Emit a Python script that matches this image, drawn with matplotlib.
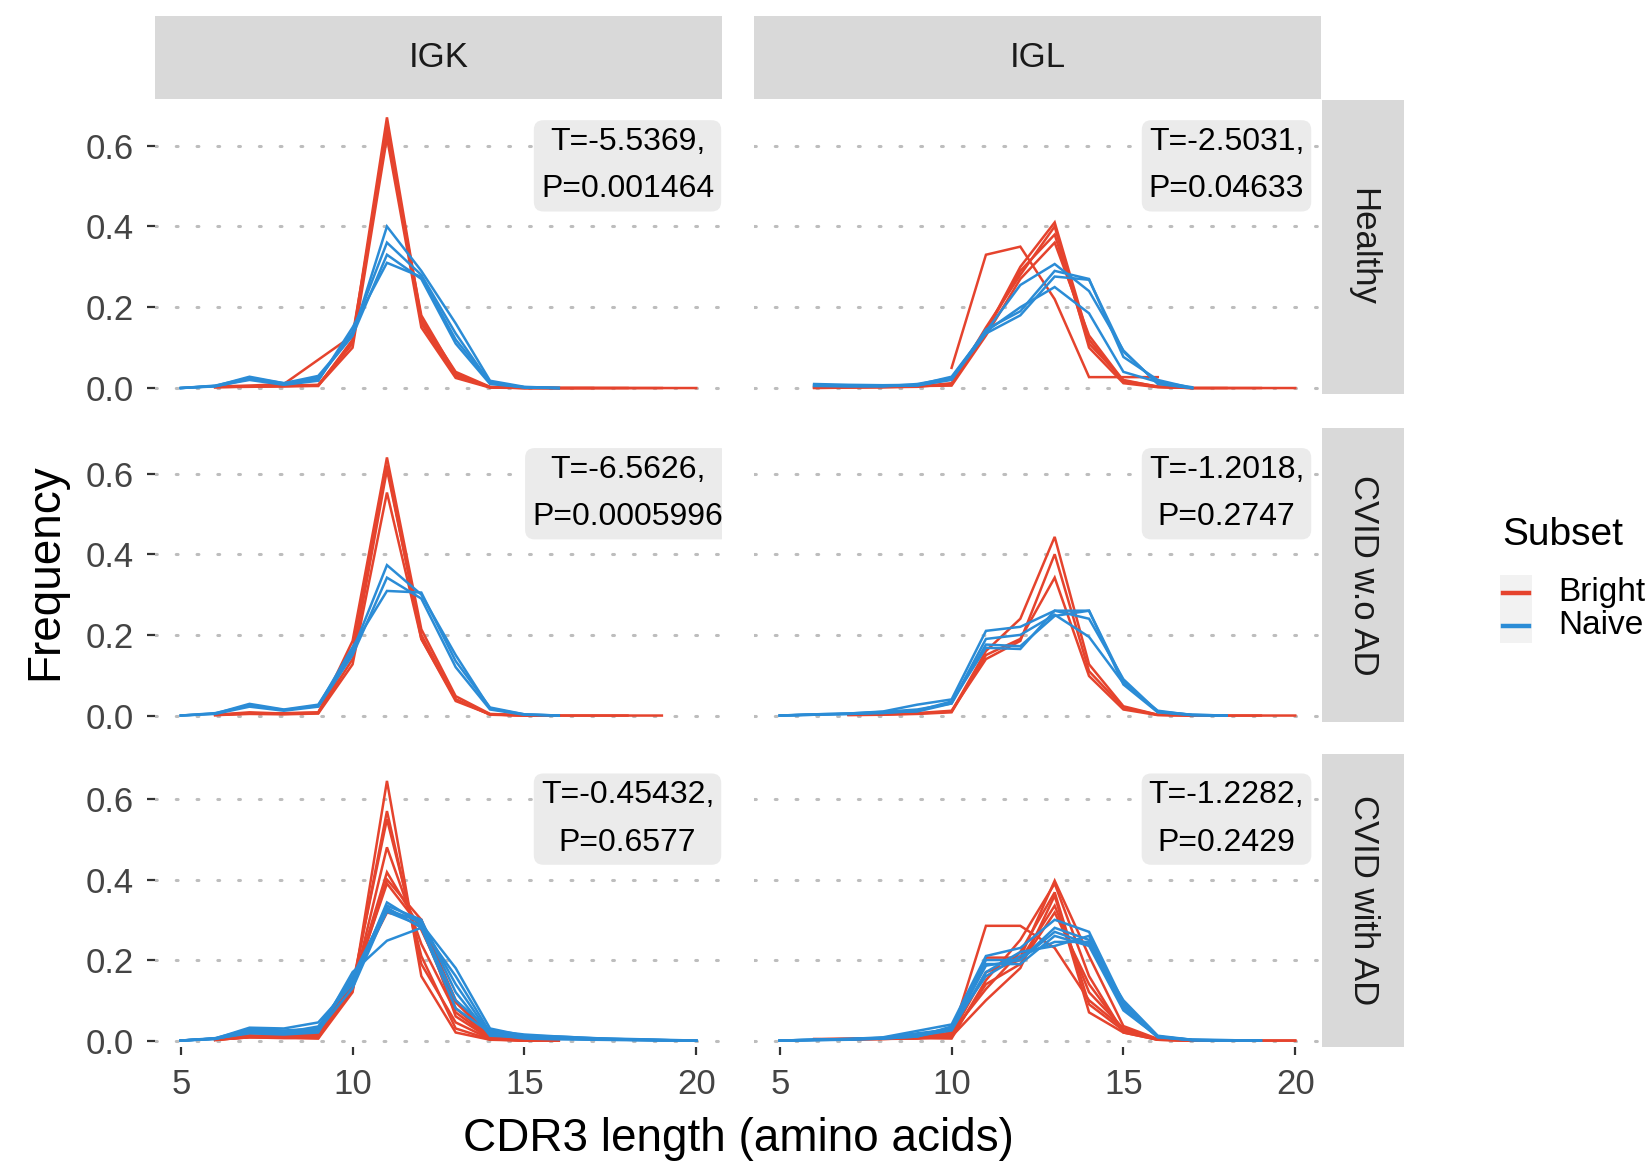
import numpy as np
import matplotlib
matplotlib.use("Agg")
import matplotlib.pyplot as plt
from matplotlib.lines import Line2D
from matplotlib.patches import Rectangle

plt.rcParams["font.family"] = ["Liberation Sans", "DejaVu Sans"]

# CDR3 length axis, every series below is indexed on it (None = no point)
lengths = list(range(5, 21))

chains = ["IGK", "IGL"]
groups = ["Healthy", "CVID w.o AD", "CVID with AD"]
subsets = ["Bright", "Naive"]

healthy_igk_bright = [
    [None, 0.003, 0.005, 0.005, 0.005, 0.12, 0.67, 0.17, 0.040, 0.003, 0, 0, 0, 0, 0, 0],
    [None, 0.002, 0.004, 0.006, 0.008, 0.11, 0.65, 0.16, 0.030, 0.002, 0, 0, 0, 0, 0, None],
    [None, 0.004, 0.006, 0.010, 0.070, 0.13, 0.63, 0.18, 0.035, 0.002, 0.001, 0, 0, None, None, None],
    [None, 0.002, 0.003, 0.004, 0.006, 0.10, 0.62, 0.15, 0.025, 0.001, 0, 0, None, None, None, None],
    [None, 0.003, 0.004, 0.005, 0.007, 0.115, 0.64, 0.165, 0.030, 0.002, 0, 0, 0, 0, None, None],
]
healthy_igk_naive = [
    [0, 0.005, 0.028, 0.012, 0.025, 0.13, 0.40, 0.29, 0.16, 0.018, 0.003, 0, None, None, None, None],
    [0, 0.004, 0.022, 0.010, 0.020, 0.14, 0.36, 0.28, 0.135, 0.012, 0.002, 0, None, None, None, None],
    [0, 0.006, 0.025, 0.012, 0.030, 0.13, 0.33, 0.27, 0.11, 0.010, 0.002, 0, None, None, None, None],
    [0, 0.005, 0.020, 0.008, 0.018, 0.15, 0.31, 0.275, 0.12, 0.015, 0.001, 0, None, None, None, None],
]
healthy_igl_bright = [
    [None, None, None, None, None, 0.05, 0.33, 0.35, 0.22, 0.027, 0.027, 0.027, None, None, None, None],
    [None, 0.000, 0.001, 0.002, 0.003, 0.010, 0.14, 0.30, 0.41, 0.12, 0.015, 0.003, 0, 0, 0, 0],
    [None, 0.001, 0.002, 0.003, 0.005, 0.008, 0.15, 0.28, 0.40, 0.10, 0.012, 0.002, 0, 0, 0, None],
    [None, 0.002, 0.003, 0.004, 0.005, 0.006, 0.13, 0.27, 0.36, 0.13, 0.018, 0.004, 0, 0, None, None],
    [None, 0.001, 0.002, 0.002, 0.004, 0.012, 0.14, 0.29, 0.38, 0.11, 0.020, 0.003, 0, None, None, None],
]
healthy_igl_naive = [
    [None, 0.010, 0.008, 0.007, 0.008, 0.028, 0.14, 0.255, 0.307, 0.24, 0.093, 0.010, 0, None, None, None],
    [None, 0.008, 0.006, 0.006, 0.007, 0.020, 0.145, 0.19, 0.29, 0.27, 0.077, 0.020, 0, None, None, None],
    [None, 0.005, 0.005, 0.005, 0.006, 0.022, 0.135, 0.18, 0.276, 0.268, 0.09, 0.012, 0, None, None, None],
    [None, 0.006, 0.004, 0.004, 0.010, 0.025, 0.14, 0.20, 0.25, 0.185, 0.04, 0.015, 0.002, None, None, None],
]
woad_igk_bright = [
    [None, 0.002, 0.008, 0.005, 0.007, 0.185, 0.64, 0.214, 0.048, 0.004, 0.001, 0, 0, 0, 0, None],
    [None, 0.001, 0.006, 0.004, 0.006, 0.16, 0.62, 0.19, 0.036, 0.003, 0, 0, 0, 0, None, None],
    [None, 0.002, 0.005, 0.006, 0.008, 0.14, 0.61, 0.20, 0.040, 0.002, 0, 0, None, None, None, None],
    [None, 0.001, 0.004, 0.003, 0.005, 0.127, 0.553, 0.19, 0.040, 0.003, 0, 0, None, None, None, None],
]
woad_igk_naive = [
    [0, 0.005, 0.029, 0.015, 0.027, 0.16, 0.373, 0.30, 0.15, 0.017, 0.003, 0, None, None, None, None],
    [0, 0.004, 0.022, 0.012, 0.022, 0.15, 0.342, 0.29, 0.12, 0.015, 0.002, 0, None, None, None, None],
    [0, 0.006, 0.025, 0.014, 0.024, 0.17, 0.309, 0.305, 0.135, 0.020, 0.003, 0, None, None, None, None],
]
woad_igl_bright = [
    [None, None, 0.002, 0.003, 0.005, 0.010, 0.16, 0.24, 0.443, 0.127, 0.023, 0.002, 0, 0, 0, 0],
    [None, None, 0.001, 0.002, 0.004, 0.008, 0.15, 0.19, 0.342, 0.098, 0.015, 0.001, 0, 0, 0, None],
    [None, None, 0.002, 0.003, 0.006, 0.012, 0.14, 0.185, 0.40, 0.11, 0.020, 0.002, 0, None, None, None],
]
woad_igl_naive = [
    [0, 0.003, 0.005, 0.010, 0.027, 0.040, 0.21, 0.22, 0.26, 0.26, 0.085, 0.009, 0.002, 0, None, None],
    [0, 0.002, 0.004, 0.008, 0.010, 0.030, 0.176, 0.172, 0.247, 0.26, 0.077, 0.008, 0.001, 0, None, None],
    [0, 0.002, 0.004, 0.006, 0.012, 0.035, 0.168, 0.165, 0.26, 0.24, 0.09, 0.010, 0.002, 0, None, None],
    [0, 0.003, 0.005, 0.009, 0.015, 0.030, 0.19, 0.20, 0.25, 0.195, 0.08, 0.012, 0.001, 0, None, None],
]
wad_igk_bright = [
    [None, 0.002, 0.008, 0.008, 0.005, 0.12, 0.645, 0.16, 0.020, 0.002, 0, 0, None, None, None, None],
    [None, 0.002, 0.010, 0.007, 0.010, 0.13, 0.57, 0.19, 0.045, 0.004, 0, 0, None, None, None, None],
    [None, 0.003, 0.012, 0.010, 0.008, 0.14, 0.55, 0.21, 0.030, 0.003, 0, 0, None, None, None, None],
    [None, 0.001, 0.009, 0.008, 0.012, 0.125, 0.48, 0.24, 0.070, 0.006, 0.001, 0, None, None, None, None],
    [None, 0.002, 0.011, 0.009, 0.015, 0.135, 0.418, 0.275, 0.095, 0.010, 0.001, 0, None, None, None, None],
    [None, 0.003, 0.010, 0.011, 0.010, 0.13, 0.40, 0.30, 0.060, 0.005, 0, 0, None, None, None, None],
    [None, 0.002, 0.008, 0.006, 0.006, 0.14, 0.39, 0.28, 0.080, 0.008, 0, 0, None, None, None, None],
    [None, 0.002, 0.013, 0.010, 0.020, 0.15, 0.318, 0.30, 0.10, 0.012, 0.002, 0, None, None, None, None],
]
wad_igk_naive = [
    [0, 0.005, 0.032, 0.030, 0.045, 0.14, 0.343, 0.29, 0.18, 0.030, 0.012, 0.010, 0.006, 0.004, 0.002, 0],
    [0, 0.004, 0.025, 0.020, 0.028, 0.15, 0.335, 0.30, 0.12, 0.012, 0.008, 0.005, 0.003, 0.002, 0.001, 0],
    [0, 0.006, 0.028, 0.025, 0.030, 0.16, 0.33, 0.28, 0.08, 0.020, 0.010, 0.008, 0.004, 0.002, 0.001, 0],
    [0, 0.005, 0.020, 0.018, 0.025, 0.13, 0.325, 0.295, 0.14, 0.015, 0.005, 0.003, 0.002, 0.001, 0, 0],
    [0, 0.004, 0.022, 0.020, 0.035, 0.15, 0.32, 0.285, 0.10, 0.025, 0.015, 0.010, 0.006, 0.003, 0.001, 0],
    [0, 0.005, 0.018, 0.015, 0.020, 0.17, 0.248, 0.28, 0.16, 0.020, 0.010, 0.006, 0.003, 0.002, 0.001, 0],
]
wad_igl_bright = [
    [None, 0.004, 0.004, 0.005, 0.006, 0.012, 0.285, 0.285, 0.23, 0.10, 0.030, 0.003, 0, 0, 0, 0],
    [None, 0.003, 0.004, 0.005, 0.008, 0.010, 0.206, 0.206, 0.397, 0.21, 0.036, 0.004, 0, 0, 0, 0],
    [None, 0.002, 0.003, 0.004, 0.006, 0.005, 0.15, 0.25, 0.39, 0.16, 0.020, 0.002, 0, 0, None, None],
    [None, 0.003, 0.004, 0.006, 0.008, 0.020, 0.128, 0.22, 0.368, 0.09, 0.025, 0.003, 0, None, None, None],
    [None, 0.002, 0.003, 0.004, 0.005, 0.010, 0.10, 0.18, 0.36, 0.07, 0.020, 0.002, 0, None, None, None],
    [None, 0.003, 0.004, 0.005, 0.007, 0.015, 0.17, 0.20, 0.335, 0.12, 0.030, 0.003, 0, None, None, None],
    [None, 0.002, 0.003, 0.004, 0.006, 0.012, 0.14, 0.19, 0.318, 0.14, 0.025, 0.002, 0, None, None, None],
]
wad_igl_naive = [
    [0, 0.002, 0.004, 0.008, 0.024, 0.040, 0.21, 0.23, 0.30, 0.27, 0.095, 0.010, 0.002, 0.001, 0, None],
    [0, 0.002, 0.003, 0.006, 0.015, 0.030, 0.186, 0.20, 0.28, 0.25, 0.08, 0.008, 0.001, 0, 0, None],
    [0, 0.001, 0.003, 0.005, 0.010, 0.035, 0.16, 0.21, 0.245, 0.245, 0.085, 0.010, 0.001, 0, 0, None],
    [0, 0.002, 0.004, 0.006, 0.012, 0.025, 0.17, 0.22, 0.235, 0.26, 0.09, 0.009, 0.002, 0, 0, None],
    [0, 0.001, 0.002, 0.005, 0.010, 0.030, 0.19, 0.19, 0.26, 0.235, 0.075, 0.010, 0.001, 0, 0, None],
    [0, 0.002, 0.003, 0.007, 0.018, 0.028, 0.20, 0.20, 0.27, 0.24, 0.10, 0.012, 0.002, 0.001, 0, None],
]

# t-test results shown in each panel, rows = groups, cols = chains
t_values = [["-5.5369", "-2.5031"], ["-6.5626", "-1.2018"], ["-0.45432", "-1.2282"]]
p_values = [["0.001464", "0.04633"], ["0.0005996", "0.2747"], ["0.6577", "0.2429"]]

panel_data = [
    [(healthy_igk_bright, healthy_igk_naive), (healthy_igl_bright, healthy_igl_naive)],
    [(woad_igk_bright, woad_igk_naive), (woad_igl_bright, woad_igl_naive)],
    [(wad_igk_bright, wad_igk_naive), (wad_igl_bright, wad_igl_naive)],
]

colors = {"Bright": "#E5432D", "Naive": "#2B8CD6"}

W, H = 1646, 1165
fig = plt.figure(figsize=(W / 100, H / 100), dpi=100)


def rect(left, top, right, bottom):
    return [left / W, 1 - bottom / H, (right - left) / W, (bottom - top) / H]


col_px = [(155, 722), (754, 1321)]
row_px = [(100, 394.5), (428, 722), (753.5, 1047)]

for i, (top, bottom) in enumerate(row_px):
    for j, (left, right) in enumerate(col_px):
        ax = fig.add_axes(rect(left, top, right, bottom))
        ax.set_xlim(4.25, 20.75)
        ax.set_ylim(-0.016, 0.713)
        ax.set_yticks([0, 0.2, 0.4, 0.6])
        ax.set_xticks([5, 10, 15, 20])
        ax.grid(axis="y", color="#BDBDBD", linestyle=(0, (0.6, 6.2)),
                linewidth=2.2, dash_capstyle="round")
        ax.set_axisbelow(True)
        for s in ax.spines.values():
            s.set_visible(False)
        ax.tick_params(length=6, width=1.6, color="#333333",
                       labelsize=25, labelcolor="#444444", pad=9)
        if j == 0:
            ax.set_yticklabels(["0.0", "0.2", "0.4", "0.6"])
        else:
            ax.tick_params(axis="y", left=False, labelleft=False)
        if i != 2:
            ax.tick_params(axis="x", bottom=False, labelbottom=False)

        for name, series in zip(subsets, panel_data[i][j]):
            for vals in series:
                y = np.array(vals, dtype=float)
                ax.plot(lengths, y, color=colors[name], lw=1.8, solid_joinstyle="miter")

        ax.text(18, 0.55, f"T={t_values[i][j]},\nP={p_values[i][j]}",
                ha="center", va="center", multialignment="center",
                fontsize=23, color="black", linespacing=1.75, clip_on=True,
                bbox=dict(boxstyle="round,pad=0.22,rounding_size=0.3",
                          fc="#EBEBEB", ec="none"))

# facet strips
for j, (left, right) in enumerate(col_px):
    sax = fig.add_axes(rect(left, 16, right, 99))
    sax.set_facecolor("#D9D9D9")
    sax.set_xticks([])
    sax.set_yticks([])
    for s in sax.spines.values():
        s.set_visible(False)
    sax.text(0.5, 0.5, chains[j], ha="center", va="center",
             fontsize=25, color="#1A1A1A", transform=sax.transAxes)

for i, (top, bottom) in enumerate(row_px):
    sax = fig.add_axes(rect(1322, top, 1404, bottom))
    sax.set_facecolor("#D9D9D9")
    sax.set_xticks([])
    sax.set_yticks([])
    for s in sax.spines.values():
        s.set_visible(False)
    sax.text(0.5, 0.5, groups[i], ha="center", va="center", rotation=270,
             fontsize=25, color="#1A1A1A", transform=sax.transAxes)

# axis titles
fig.text(738 / W, 1 - 1139 / H, "CDR3 length (amino acids)",
         ha="center", va="center", fontsize=33)
fig.text(45 / W, 1 - 572 / H, "Frequency", ha="center", va="center",
         rotation=90, fontsize=33)

# legend
fig.text(1502 / W, 1 - 535 / H, "Subset", ha="left", va="center", fontsize=28)
fig.add_artist(Rectangle((1500 / W, 1 - 643 / H), 32 / W, 68 / H,
                         transform=fig.transFigure, fc="#F2F2F2", ec="none"))
for k, name in enumerate(subsets):
    yk = 1 - (593 + 33 * k) / H
    fig.add_artist(Line2D([1503 / W, 1529 / W], [yk, yk], transform=fig.transFigure,
                          color=colors[name], lw=3.2))
    fig.text(1558 / W, yk, name, ha="left", va="center", fontsize=24)

fig.savefig("out.png", dpi=100)
